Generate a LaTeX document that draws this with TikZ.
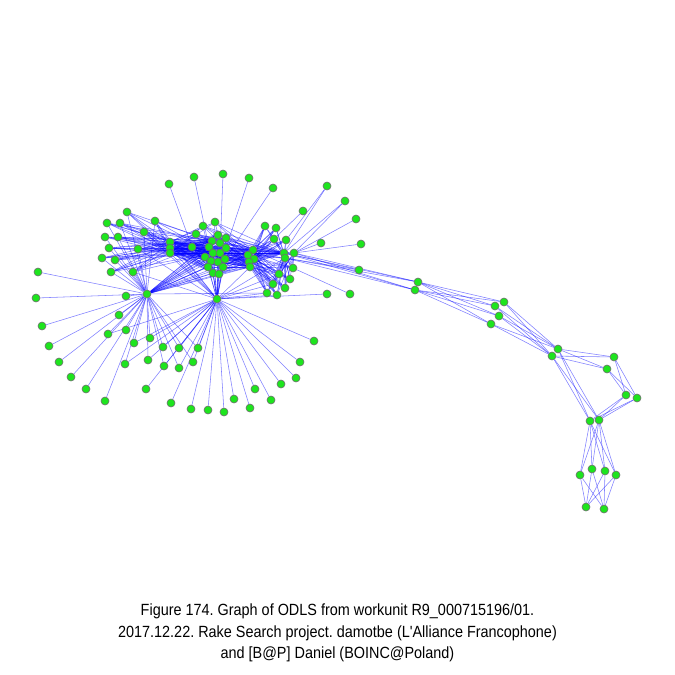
\documentclass[tikz,border=0pt]{standalone}
\usepackage{fontspec}
\setmainfont{Liberation Sans}
\newfontfamily\capfont[FakeStretch=0.89]{Liberation Sans}
\frenchspacing
\pgfdeclarelayer{bg}
\pgfsetlayers{bg,main}
\definecolor{ngreen}{RGB}{30,228,30}
\definecolor{nrim}{RGB}{110,110,110}
\tikzset{
  vtx/.style={circle,fill=ngreen,draw=nrim,line width=0.6pt,minimum size=8pt,inner sep=0pt},
  edge/.style={draw=blue,draw opacity=0.5,line width=0.55pt},
  captxt/.style={font=\capfont\fontsize{16.2}{18}\selectfont,inner sep=0pt,anchor=base}
}
\begin{document}
\begin{tikzpicture}[x=1pt,y=-1pt]
\useasboundingbox (0,0) rectangle (675,675);
% left group
\foreach \n/\x/\y in {L1/127/212,L2/107/223,L3/120/223,L4/155/221,L5/144/232,L6/105/237,L7/118/237,L8/109/248,L9/138/249,L10/102/258,L11/115/260,L12/111/272,L13/133/272,L14/126/296}
  \node[vtx] (\n) at (\x,\y) {};
% central columns
\foreach \n/\x/\y in {C1/170/242,C2/170/248,C3/170/253,C4/192/247,T1/196/234,T2/203/226,T3/215/222}
  \node[vtx] (\n) at (\x,\y) {};
% dense cluster
\foreach \n/\x/\y in {K1/218/235,K2/212/241,K3/226/238,K4/220/243,K5/209/247,K6/226/248,K7/213/253,K8/220/253,K9/205/257,K10/211/261,K11/218/262,K12/225/259,K13/208/267,K14/223/267,K15/213/273,K16/219/274}
  \node[vtx] (\n) at (\x,\y) {};
% right cluster
\foreach \n/\x/\y in {R1/265/226,R2/276/228,R3/274/239,R4/286/240,R5/253/250,R6/248/255,R7/254/259,R8/249/262,R9/250/267,RH1/284/253,RH2/285/258,RH3/294/253,R10/293/268,R11/279/274,R12/290/279,R13/273/284,R14/285/288,R15/267/293,R16/277/295}
  \node[vtx] (\n) at (\x,\y) {};
% top fan and far right
\foreach \n/\x/\y in {F1/169/184,F2/194/177,F3/223/174,F4/249/178,F5/273/188,E1/327/186,E2/345/201,E3/356/219,E4/303/211,E5/321/243,E6/361/244,E7/359/270,E8/327/294,E9/350/294}
  \node[vtx] (\n) at (\x,\y) {};
% hubs
\node[vtx] (hA) at (147,294) {};
\node[vtx] (hB) at (217,299) {};
% lower fans
\foreach \n/\x/\y in {A1/38/272,A2/36/298,A3/42/326,A4/49/346,A5/59/362,A6/71/377,A7/86/389,A8/105/401,A9/119/315,A10/108/334,A11/126/330,A12/134/343,A13/150/338,A14/125/364,A15/148/360,A16/146/389,A17/163/347,A18/179/348,A19/198/348,A20/164/366,A21/179/368,A22/193/362}
  \node[vtx] (\n) at (\x,\y) {};
\foreach \n/\x/\y in {B1/171/403,B2/191/409,B3/208/410,B4/224/412,B5/234/399,B6/250/408,B7/255/389,B8/271/400,B9/281/384,B10/296/378,B11/300/362,B12/314/341}
  \node[vtx] (\n) at (\x,\y) {};
% chain
\foreach \n/\x/\y in {P1/418/282,P2/415/290,Q1/504/302,Q2/495/306,Q3/499/316,Q4/491/324,S1/558/349,S2/552/356,U1/614/357,U2/607/369,V1/626/395,V2/637/398,W1/590/421,W2/599/420,X1/580/475,X2/592/469,X3/605/471,X4/616/475,Y1/586/507,Y2/604/509}
  \node[vtx] (\n) at (\x,\y) {};

\begin{pgfonlayer}{bg}
% left group
\foreach \a in {L1,L2,L3,L4,L5,L6,L7,L8,L9,L10,L11,L12,L13}{
  \foreach \b in {C1,C2,C3,K2,K7,hA} \draw[edge] (\a) -- (\b);
}
\draw[edge] (L14) -- (hA);
% central to cluster
\foreach \a in {C1,C2,C3,C4}{
  \foreach \b in {K1,K2,K3,K4,K5,K6,K7,K8,K9,K10,K11,K12,K13,K14,K15,K16} \draw[edge] (\a) -- (\b);
}
\foreach \a in {C1,C2,C3}{
  \foreach \b in {R5,R6,R7,R8,R9,RH1,RH2,RH3} \draw[edge] (\a) -- (\b);
}
\foreach \a in {K1,K2,K3,K4,K5,K6,K7,K8,K9,K10,K11,K12,K13,K14,K15,K16}{
  \foreach \b in {R5,R7,R9,RH1,hA,hB} \draw[edge] (\a) -- (\b);
}
\foreach \a in {T1,T2,T3}{
  \foreach \b in {C1,C3,R5,R7,RH1,K4,K10} \draw[edge] (\a) -- (\b);
}
\foreach \b in {R6,R8,R9,R15} \draw[edge] (hA) -- (\b);
\foreach \b in {R9,R11,R13,R15,R16,RH2,C1,C2,C3,L4,L5,L9,L13} \draw[edge] (hB) -- (\b);
% right cluster
\foreach \a in {R5,R6,R7,R8,R9,RH1,RH2,RH3}{
  \foreach \b in {R10,R11,R12,R13,R14,R15,R16} \draw[edge] (\a) -- (\b);
}
\foreach \a in {R1,R2,R3,R4}{
  \foreach \b in {R5,R6,R7,R8,R9,RH1,RH2} \draw[edge] (\a) -- (\b);
}
% fans top / right
\foreach \a/\b in {F1/C4,F2/K5,F3/K8,F4/K6,F5/K12,E1/RH1,E1/R4,E2/RH1,E2/RH3,E3/RH3,E4/R3,E5/RH3,E6/RH3,E7/RH1,E7/RH2,E8/hB,E9/R10}
  \draw[edge] (\a) -- (\b);
% to the chain
\foreach \a in {RH1,RH2,RH3}{
  \foreach \b in {P1,P2} \draw[edge] (\a) -- (\b);
}
\foreach \a in {P1,P2}{\foreach \b in {Q1,Q2,Q3,Q4} \draw[edge] (\a) -- (\b);}
\foreach \a in {Q1,Q2,Q3,Q4}{\foreach \b in {S1,S2} \draw[edge] (\a) -- (\b);}
\foreach \a in {S1,S2}{\foreach \b in {U1,U2,W1,W2} \draw[edge] (\a) -- (\b);}
\foreach \a in {U1,U2}{\foreach \b in {V1,V2} \draw[edge] (\a) -- (\b);}
\foreach \a in {V1,V2}{\foreach \b in {W1,W2} \draw[edge] (\a) -- (\b);}
\foreach \a in {W1,W2}{\foreach \b in {X1,X2,X3,X4} \draw[edge] (\a) -- (\b);}
\foreach \a in {X1,X2,X3,X4}{\foreach \b in {Y1,Y2} \draw[edge] (\a) -- (\b);}
% lower fans
\foreach \a in {A1,A2,A3,A4,A5,A6,A7,A8,A9,A10,A11,A12,A13,A14,A15,A17,A18,A19,A20,A21,A22}
  \draw[edge] (\a) -- (hA);
\foreach \a in {A10,A12,A13,A14,A15,A16,A17,A18,A19,A20,A21,A22,B1,B2,B3,B4,B5,B6,B7,B8,B9,B10,B11,B12}
  \draw[edge] (\a) -- (hB);
\end{pgfonlayer}

% caption
\node[captxt] (t1) at (337.5,615) {Figure 174. Graph of ODLS from workunit R9\_000715196/01.};
\node[captxt] (t2) at (337.5,637) {2017.12.22. Rake Search project. damotbe (L'Alliance Francophone)};
\node[captxt] (t3) at (337.5,658.5) {and [B@P] Daniel (BOINC@Poland)};
\end{tikzpicture}
\end{document}
